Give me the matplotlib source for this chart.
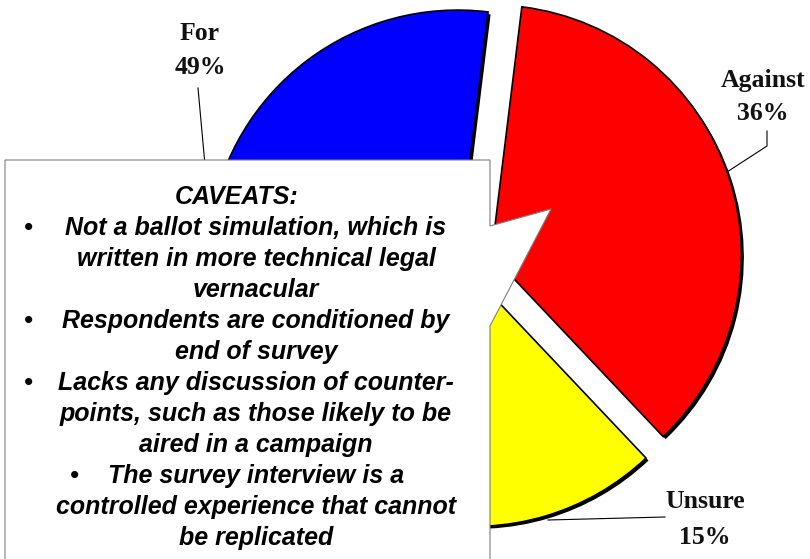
import matplotlib.pyplot as plt
import matplotlib.patheffects as pe
from matplotlib.patches import Polygon

# poll results
labels = ["For", "Against", "Unsure"]
shares = [49, 36, 15]
colors = ["#0000FF", "#FF0000", "#FFFF00"]
explode = [0.05, 0.09, 0.06]   # fraction of radius

caveat_title = "CAVEATS:"
caveat_lines = [
    ("•", "Not a ballot simulation, which is"),
    ("", "written in more technical legal"),
    ("", "vernacular"),
    ("•", "Respondents are conditioned by"),
    ("", "end of survey"),
    ("•", "Lacks any discussion of counter-"),
    ("", "points, such as those likely to be"),
    ("", "aired in a campaign"),
    ("•", "The survey interview is a"),
    ("", "controlled experience that cannot"),
    ("", "be replicated"),
]

W, H = 810, 559
R = 250
fig = plt.figure(figsize=(W / 100, H / 100), dpi=100)
ax = fig.add_axes([0, 0, 1, 1])

# start so the For slice ends just right of 12 o'clock
start = 83 + 360 * shares[0] / 100
wedges, _ = ax.pie(shares, colors=colors, explode=[e * R for e in explode],
                   startangle=start, counterclock=False,
                   center=(470, H - 262), radius=R, frame=True,
                   wedgeprops=dict(edgecolor="black", linewidth=1.2))
for w in wedges:
    w.set_path_effects([pe.SimplePatchShadow(offset=(1.8, -1.8),
                                             shadow_rgbFace="black", alpha=1),
                        pe.Normal()])
ax.set_xlim(0, W)
ax.set_ylim(0, H)
ax.set_aspect("equal")
ax.axis("off")

serif = dict(family="Liberation Serif", weight="bold", fontsize=18.5,
             ha="center", va="center", color="#111111")

# slice labels + leader lines
ax.text(200, H - 33, labels[0], **serif)
ax.text(200, H - 68, f"{shares[0]}%", **serif)
ax.plot([198, 205], [H - 88, H - 165], color="black", lw=0.8)

ax.text(763, H - 80, labels[1], **serif)
ax.text(763, H - 113, f"{shares[1]}%", **serif)
ax.plot([767, 767, 727], [H - 131, H - 146, H - 172], color="black", lw=0.8)

ax.text(705, H - 502, labels[2], **serif)
ax.text(705, H - 537, f"{shares[2]}%", **serif)
ax.plot([548, 665], [H - 520, H - 517], color="black", lw=0.8)

# caveats callout box
box = [(5, 160), (490, 160), (490, 226), (551, 209), (490, 326),
       (490, 565), (5, 565)]
ax.add_patch(Polygon([(x, H - y) for x, y in box], closed=True,
                     facecolor="white", edgecolor="#7f7f7f", lw=0.8, zorder=5))

sans = dict(family="Liberation Sans", weight="bold", style="italic",
            fontsize=18, va="center", color="black", zorder=6)
ax.text(237, H - 197, caveat_title, ha="center", **sans)
y = 228
for bullet, line in caveat_lines:
    if bullet:
        bx = 74 if line.startswith("The survey") else 28
        ax.text(bx, H - y, bullet, ha="center", **sans)
    ax.text(256, H - y, line, ha="center", **sans)
    y += 31

plt.savefig("out.png", dpi=100)
